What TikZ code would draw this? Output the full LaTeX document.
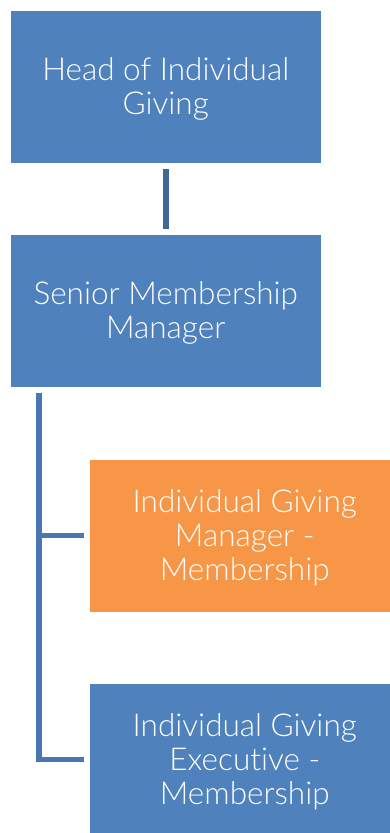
\documentclass[tikz,border=0pt]{standalone}
\usepackage{fontspec}
\setmainfont{Lato Light}[Ligatures={NoCommon}]
\definecolor{boxblue}{HTML}{4F81BD}
\definecolor{boxorange}{HTML}{F79646}
\definecolor{linkdark}{HTML}{3F6797}
\definecolor{linkblue}{HTML}{4A76AF}
\tikzset{
  box/.style={fill=#1, draw=none, minimum width=310.5pt, minimum height=152pt, inner sep=0pt},
  boxtext/.style={text=white, align=center, inner sep=0pt, yshift=-2pt,
    font=\fontsize{31.5}{33.8}\selectfont},
  link/.style={line width=5.5pt, draw=#1}
}
\begin{document}
\begin{tikzpicture}[x=1pt,y=-1pt]
\useasboundingbox (0,0) rectangle (390,833);
\begin{scope}
\clip (0,0) rectangle (390,833);
\node[box=boxblue] (head) at (165.75,87) {};
\node[boxtext] (headtext) at (head.center) {Head of Individual\\Giving};
\node[box=boxblue] (senior) at (165.75,311) {};
\node[boxtext] (seniortext) at (senior.center) {Senior Membership\\Manager};
\node[box=boxorange] (igm) at (244.75,536) {};
\node[boxtext] (igmtext) at (igm.center) {Individual Giving\\Manager -\\Membership};
\node[box=boxblue] (ige) at (244.75,760) {};
\node[boxtext] (igetext) at (ige.center) {Individual Giving\\Executive -\\Membership};
\coordinate (trunk) at (39.2,392.7);
\coordinate (jm) at (39.2,535.7);
\coordinate (je) at (39.2,759.5);
\draw[link=linkdark] ([yshift=-6pt]head.south) -- ([yshift=6pt]senior.north);
\draw[link=linkblue] (trunk) -- (je) -- ([xshift=-5.5pt]ige.west |- je);
\draw[link=linkblue] (jm) -- ([xshift=-5.5pt]igm.west |- jm);
\end{scope}
\end{tikzpicture}
\end{document}
